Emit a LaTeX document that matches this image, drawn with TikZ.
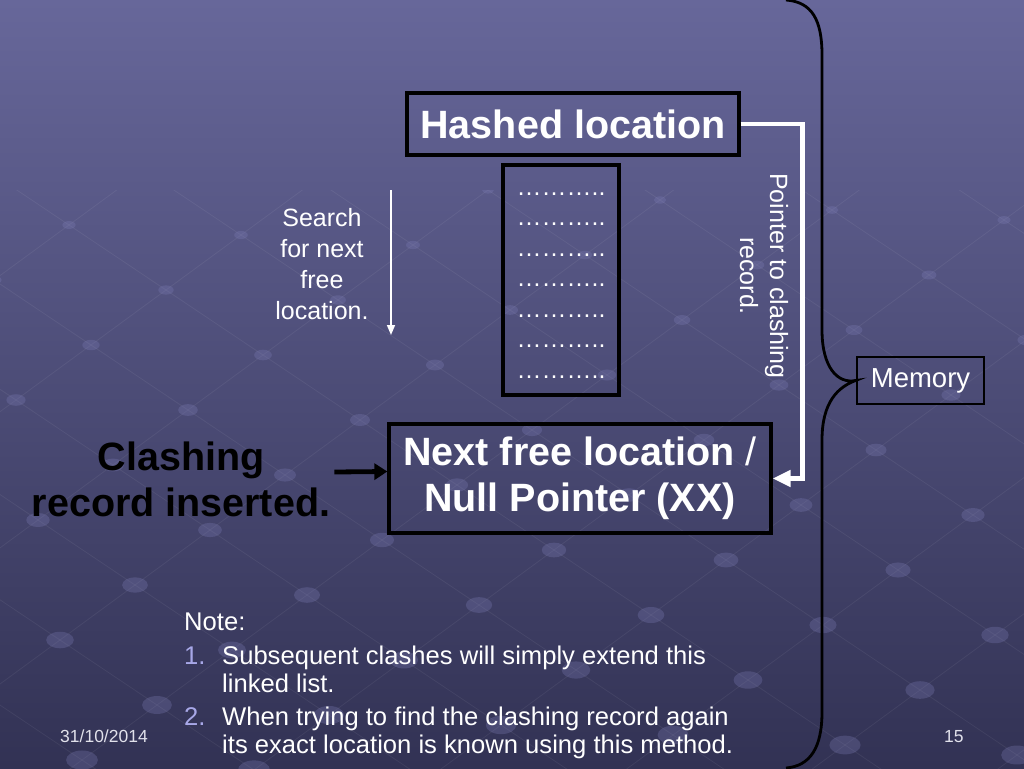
\documentclass[tikz,border=0pt]{standalone}
\usepackage{fontspec}
\setmainfont{Liberation Sans}
\usetikzlibrary{arrows.meta,calc}
\definecolor{bgtop}{RGB}{103,103,154}
\definecolor{bgbot}{RGB}{50,50,84}
\definecolor{numcol}{RGB}{168,168,232}
\definecolor{bead}{RGB}{125,125,182}
\definecolor{foot}{RGB}{225,225,235}
\begin{document}
\begin{tikzpicture}[x=1pt,y=-1pt,
  box/.style={draw=black, line width=3.3pt, inner sep=0pt, text=white},
  big/.style={font=\fontsize{39.5}{46}\selectfont\bfseries},
  mid/.style={font=\fontsize{25}{31}\selectfont, text=white},
  dotline/.style={font=\fontsize{25}{30}\selectfont, text=white, anchor=base, inner sep=0pt},
  note/.style={font=\fontsize{25.6}{28}\selectfont, text=white, anchor=base west, inner sep=0pt},
  num/.style={font=\fontsize{25.6}{28}\selectfont, text=numcol, anchor=base west, inner sep=0pt},
  footer/.style={font=\fontsize{17.5}{19}\selectfont, text=foot, anchor=base west, inner sep=0pt},
  wline/.style={draw=white, line width=4.8pt, -{Triangle[length=18pt,width=16pt]}},
  bline/.style={draw=black, line width=4.8pt, -{Triangle[length=13pt,width=16pt]}},
  thinline/.style={draw=white, line width=1.6pt, -{Triangle[length=10pt,width=8pt]}},
  bracestyle/.style={draw=black, line width=2.8pt},
  beadline/.style={draw=white, draw opacity=0.06, line width=0.8pt},
]
\useasboundingbox (0,0) rectangle (1024,768);
\shade[top color=bgtop, bottom color=bgbot] (0,0) rectangle (1024,768);

% faint background lattice of beads
\begin{scope}
\clip (0,190) rectangle (1024,768);
\foreach \i in {-8,...,12} {
  \draw[beadline] ({-200+97*\i+75*(-6)},{150+65*\i-55*(-6)}) -- ({-200+97*\i+75*14},{150+65*\i-55*14});
}
\foreach \j in {-6,...,14} {
  \draw[beadline] ({-200+97*(-8)+75*\j},{150+65*(-8)-55*\j}) -- ({-200+97*12+75*\j},{150+65*12-55*\j});
}
\foreach \i in {-8,...,12} {
  \foreach \j in {-6,...,14} {
    \pgfmathsetmacro\px{-200+97*\i+75*\j}
    \pgfmathsetmacro\py{150+65*\i-55*\j}
    \pgfmathsetmacro\rx{max(4,6+10*(\py-190)/578)}
    \fill[bead, fill opacity=0.3] (\px,\py) ellipse [x radius=\rx pt, y radius=0.6*\rx pt];
  }
}
\end{scope}

% brace
\node[draw=black, line width=2.7pt, minimum width=127pt, minimum height=47pt, inner sep=0pt,
      font=\fontsize{27.5}{30}\selectfont, text=white] (mem) at (920.5,380.5) {Memory};
\coordinate (btop) at (786,0);
\coordinate (bbot) at (786,768);
\draw[bracestyle] (btop) .. controls (812,2) and (822,20) .. (822,55) -- (822,330)
   .. controls (822,368) and (838,384) .. (mem.west)
   .. controls (838,387) and (822,402) .. (822,440) -- (822,712)
   .. controls (822,748) and (810,766) .. (bbot);

% boxes
\node[box, big, minimum width=332pt, minimum height=62pt] (hash) at (573,124) {Hashed location};
\node[box, minimum width=116pt, minimum height=230pt] (list) at (561,280) {};
\foreach \k in {0,...,6} {
  \node[dotline] (dl\k) at (561,{195+30.5*\k}) {………..};
}
\node[box, big, align=center, minimum width=382pt, minimum height=109pt] (nf) at (580,478.5)
  {Next free location {\mdseries /}\\Null Pointer (XX)};

% left labels
\node[big, align=center, text=black, inner sep=0pt] (clash) at (181,479) {Clashing\\record inserted.};
\draw[bline] ([xshift=4pt,yshift=7pt]clash.east) -- ([yshift=7pt]nf.west);

\node[mid, align=center, inner sep=0pt] (search) at (322,264.5) {Search\\for next\\free\\location.};
\coordinate (s1) at (391,190);
\coordinate (s2) at (391,335);
\draw[thinline] (s1) -- (s2);

% pointer
\draw[wline] (hash.east) -- ++(62,0) |- (nf.east);
\node[font=\fontsize{25}{30}\selectfont, text=white, rotate=-90, align=center, inner sep=0pt] (ptr) at (764,276) {Pointer to clashing\\record.};

% notes
\node[note] (n0) at (184,630) {Note:};
\node[num] (n1) at (184,664) {1.};
\node[note] (n1a) at (222,664) {Subsequent clashes will simply extend this};
\node[note] (n1b) at (222,692) {linked list.};
\node[num] (n2) at (184,725) {2.};
\node[note] (n2a) at (222,725) {When trying to find the clashing record again};
\node[note] (n2b) at (222,753) {its exact location is known using this method.};

% footer
\node[footer] (date) at (60,742) {31/10/2014};
\node[footer] (page) at (944,742) {15};
\end{tikzpicture}
\end{document}
